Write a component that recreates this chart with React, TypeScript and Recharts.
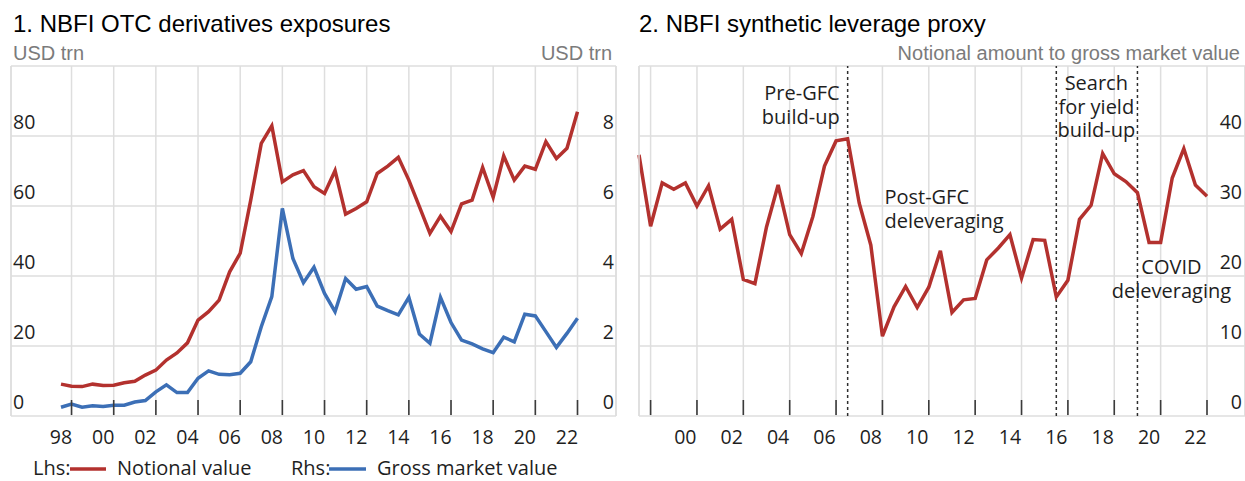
import React from 'react';
import { LineChart, Line, XAxis, YAxis, CartesianGrid, ReferenceLine } from 'recharts';

// ---------- data ----------
const years = [1998, 1999, 2000, 2001, 2002, 2003, 2004, 2005, 2006, 2007, 2008, 2009, 2010,
  2011, 2012, 2013, 2014, 2015, 2016, 2017, 2018, 2019, 2020, 2021, 2022];
const periods = years.flatMap((y) => [`${y}-H1`, `${y}-H2`]);

// Lhs, USD trn
const notional = [9.1, 8.5, 8.4, 9.1, 8.7, 8.8, 9.5, 9.9, 11.7, 13.1, 16, 18, 20.9, 27.4, 29.8, 33.1,
  41.2, 46.5, 61.7, 77.9, 82.9, 66.9, 68.9, 70.1, 65.5, 63.6, 70.1, 57.7, 59.3, 61.2, 69.3, 71.4,
  73.9, 67.4, 59.8, 52.2, 57.1, 52.7, 60.6, 61.7, 71, 62.5, 74.3, 67.4, 71.4, 70.5, 78.4, 73.6, 76.5, 86.9];
// Rhs, USD trn
const gross = [0.25, 0.34, 0.25, 0.29, 0.27, 0.31, 0.31, 0.4, 0.44, 0.69, 0.89, 0.67, 0.67, 1.08, 1.29,
  1.19, 1.18, 1.22, 1.55, 2.55, 3.41, 5.93, 4.5, 3.81, 4.25, 3.5, 2.98, 3.93, 3.62, 3.7, 3.14, 3.01,
  2.89, 3.39, 2.34, 2.08, 3.39, 2.67, 2.17, 2.06, 1.92, 1.81, 2.25, 2.12, 2.91, 2.86, 2.41, 1.96, 2.36, 2.79];
// Notional amount to gross market value
const leverage = [37.3, 27.1, 33.3, 32.4, 33.3, 30, 32.9, 26.7, 28.1, 19.5, 18.9, 27, 33, 25.9, 23.2,
  28.5, 35.7, 39.3, 39.6, 30.4, 24.4, 11.4, 15.6, 18.5, 15.5, 18.4, 23.6, 14.8, 16.6, 16.8, 22.3, 24,
  25.9, 19.7, 25.2, 25.1, 17, 19.4, 28.1, 30.1, 37.5, 34.6, 33.5, 31.9, 24.8, 24.8, 34, 38.2, 33, 31.4];

const markTicks = ['1998-H2', '2000-H2', '2002-H2', '2004-H2', '2006-H2', '2008-H2', '2010-H2',
  '2012-H2', '2014-H2', '2016-H2', '2018-H2', '2020-H2', '2022-H2'];
const leftLabelTicks = ['1998-H1', '2000-H1', '2002-H1', '2004-H1', '2006-H1', '2008-H1', '2010-H1',
  '2012-H1', '2014-H1', '2016-H1', '2018-H1', '2020-H1', '2022-H1'];
const rightLabelTicks = ['2000-H1', '2002-H1', '2004-H1', '2006-H1', '2008-H1', '2010-H1',
  '2012-H1', '2014-H1', '2016-H1', '2018-H1', '2020-H1', '2022-H1'];
const lhsTicks = [0, 20, 40, 60, 80, 100];
const rhsTicks = [0, 2, 4, 6, 8, 10];
const levTicks = [0, 10, 20, 30, 40, 50];

const phaseBreaks = ['2007-H1', '2016-H1', '2019-H2'];
const annotations = [
  { at: '2007-H1', lines: ['Pre-GFC', 'build-up'], anchor: 'end', dx: -8, top: 27 },
  { at: '2008-H2', lines: ['Post-GFC', 'deleveraging'], anchor: 'start', dx: 2, top: 131 },
  { at: '2016-H1', lines: ['Search', 'for yield', 'build-up'], anchor: 'middle', dx: 40, top: 17 },
  { at: '2019-H2', lines: ['COVID', 'deleveraging'], anchor: 'middle', dx: 34, top: 201 },
];

const data = periods.map((p, i) => ({
  period: p,
  notional: notional[i],
  gross: gross[i],
  leverage: leverage[i],
}));

// ---------- styles ----------
const FONT = "'Open Sans', 'Noto Sans', sans-serif";
const ARIAL = "'Liberation Sans', Arial, sans-serif";
const GRID = '#dedede';
const RED = '#b3312e';
const BLUE = '#3c6fb6';
const TEXT = '#1e1e1e';
const GRAY = '#7b7b7b';
const TICK_FS = 19.5;

const makeYTick = (hide: number) => (props: any) => {
  const { x, y, payload, textAnchor } = props;
  if (payload.value === hide) return <g />;
  return (
    <text x={x} y={y - 14} dy="0.36em" textAnchor={textAnchor} fontFamily={FONT} fontSize={TICK_FS} fill={TEXT}>
      {payload.value}
    </text>
  );
};

const MarkTick = (props: any) => (
  <line x1={props.x} x2={props.x} y1={props.y - 1} y2={props.y - 16} stroke="#3b3b3b" strokeWidth={1.6} />
);

const YearLabel = (props: any) => (
  <text x={props.x} y={props.y + 20} dy="0.36em" textAnchor="middle" fontFamily={FONT} fontSize={TICK_FS} fill={TEXT}>
    {String(props.payload.value).slice(2, 4)}
  </text>
);

const annotContent = (a: any) => (props: any) => {
  const vb = props.viewBox || {};
  const x = (vb.x || 0) + a.dx;
  return (
    <text fontFamily={FONT} fontSize={20} fill={TEXT} textAnchor={a.anchor}>
      {a.lines.map((t: string, k: number) => (
        <tspan key={k} x={x} y={(vb.y || 0) + a.top + k * 23.5} dy="0.36em">{t}</tspan>
      ))}
    </text>
  );
};

function LeftChart() {
  return (
    <LineChart width={620} height={481} data={data} margin={{ top: 66, left: 11, right: 4, bottom: 34 }}>
      <CartesianGrid xAxisId="m" yAxisId="l" stroke={GRID} strokeWidth={1.5} />
      <XAxis xAxisId="m" dataKey="period" ticks={markTicks} interval={0} height={1} tickSize={0} tickMargin={0}
        axisLine={false} tickLine={false} tick={MarkTick} padding={{ left: 50, right: 38.5 }} />
      <XAxis xAxisId="x" dataKey="period" ticks={leftLabelTicks} interval={0} height={30} tickSize={0} tickMargin={0}
        axisLine={false} tickLine={false} tick={YearLabel} padding={{ left: 50, right: 38.5 }} />
      <YAxis yAxisId="l" orientation="left" mirror width={1} domain={[0, 100]} ticks={lhsTicks} interval={0}
        tickLine={false} tickSize={0} tickMargin={2} axisLine={{ stroke: GRID, strokeWidth: 1.5 }} tick={makeYTick(100)} />
      <YAxis yAxisId="r" orientation="right" mirror width={1} domain={[0, 10]} ticks={rhsTicks} interval={0}
        tickLine={false} tickSize={0} tickMargin={2} axisLine={{ stroke: GRID, strokeWidth: 1.5 }} tick={makeYTick(10)} />
      <Line xAxisId="m" yAxisId="l" dataKey="notional" name="Notional value" stroke={RED} strokeWidth={3.5}
        dot={false} isAnimationActive={false} />
      <Line xAxisId="m" yAxisId="r" dataKey="gross" name="Gross market value" stroke={BLUE} strokeWidth={3.5}
        dot={false} isAnimationActive={false} />
    </LineChart>
  );
}

function RightChart() {
  return (
    <LineChart width={615} height={481} data={data} margin={{ top: 66, left: 9, right: 0, bottom: 34 }}>
      <CartesianGrid xAxisId="m" yAxisId="r" stroke={GRID} strokeWidth={1.5} />
      <XAxis xAxisId="m" dataKey="period" ticks={markTicks} interval={0} height={1} tickSize={0} tickMargin={0}
        axisLine={false} tickLine={false} tick={MarkTick} padding={{ left: 0, right: 38 }} />
      <XAxis xAxisId="x" dataKey="period" ticks={rightLabelTicks} interval={0} height={30} tickSize={0} tickMargin={0}
        axisLine={false} tickLine={false} tick={YearLabel} padding={{ left: 0, right: 38 }} />
      <YAxis yAxisId="b" orientation="left" mirror width={1} domain={[0, 50]} ticks={levTicks}
        tickLine={false} tick={false} axisLine={{ stroke: GRID, strokeWidth: 1.5 }} />
      <YAxis yAxisId="r" orientation="right" mirror width={1} domain={[0, 50]} ticks={levTicks} interval={0}
        tickLine={false} tickSize={0} tickMargin={3} axisLine={{ stroke: GRID, strokeWidth: 1.5 }} tick={makeYTick(50)} />
      {phaseBreaks.map((p) => (
        <ReferenceLine key={p} x={p} xAxisId="m" yAxisId="r" stroke="#2e2e2e" strokeWidth={1.5} strokeDasharray="3 3" />
      ))}
      {annotations.map((a) => (
        <ReferenceLine key={'a' + a.lines[0]} x={a.at} xAxisId="m" yAxisId="r" stroke="none"
          label={annotContent(a)} />
      ))}
      <Line xAxisId="m" yAxisId="r" dataKey="leverage" name="Leverage proxy" stroke={RED} strokeWidth={3.5}
        dot={false} isAnimationActive={false} />
    </LineChart>
  );
}

function Overlay() {
  return (
    <svg width={1245} height={481} style={{ position: 'absolute', left: 0, top: 0, pointerEvents: 'none' }}>
      <text x={13} y={32} fontFamily={ARIAL} fontSize={24} fill="#000">1. NBFI OTC derivatives exposures</text>
      <text x={639} y={32} fontFamily={ARIAL} fontSize={24} fill="#000">2. NBFI synthetic leverage proxy</text>
      <text x={13} y={60} fontFamily={ARIAL} fontSize={20} fill={GRAY}>USD trn</text>
      <text x={612} y={60} fontFamily={ARIAL} fontSize={20} fill={GRAY} textAnchor="end">USD trn</text>
      <text x={1240} y={60} fontFamily={ARIAL} fontSize={20} fill={GRAY} textAnchor="end">Notional amount to gross market value</text>
      {/* legend */}
      <text x={33} y={475} fontFamily={FONT} fontSize={20} fill={TEXT}>Lhs:</text>
      <line x1={70} x2={106} y1={469} y2={469} stroke={RED} strokeWidth={3.5} />
      <text x={117} y={475} fontFamily={FONT} fontSize={20} fill={TEXT}>Notional value</text>
      <text x={291} y={475} fontFamily={FONT} fontSize={20} fill={TEXT}>Rhs:</text>
      <line x1={329} x2={366} y1={469} y2={469} stroke={BLUE} strokeWidth={3.5} />
      <text x={377} y={475} fontFamily={FONT} fontSize={20} fill={TEXT}>Gross market value</text>
    </svg>
  );
}

export default function App() {
  return (
    <div style={{ position: 'absolute', left: 0, top: 0, width: 1245, height: 481, overflow: 'hidden', background: '#fff' }}>
      <div style={{ position: 'absolute', left: 0, top: 0 }}>
        <LeftChart />
      </div>
      <div style={{ position: 'absolute', left: 630, top: 0 }}>
        <RightChart />
      </div>
      <Overlay />
    </div>
  );
}
